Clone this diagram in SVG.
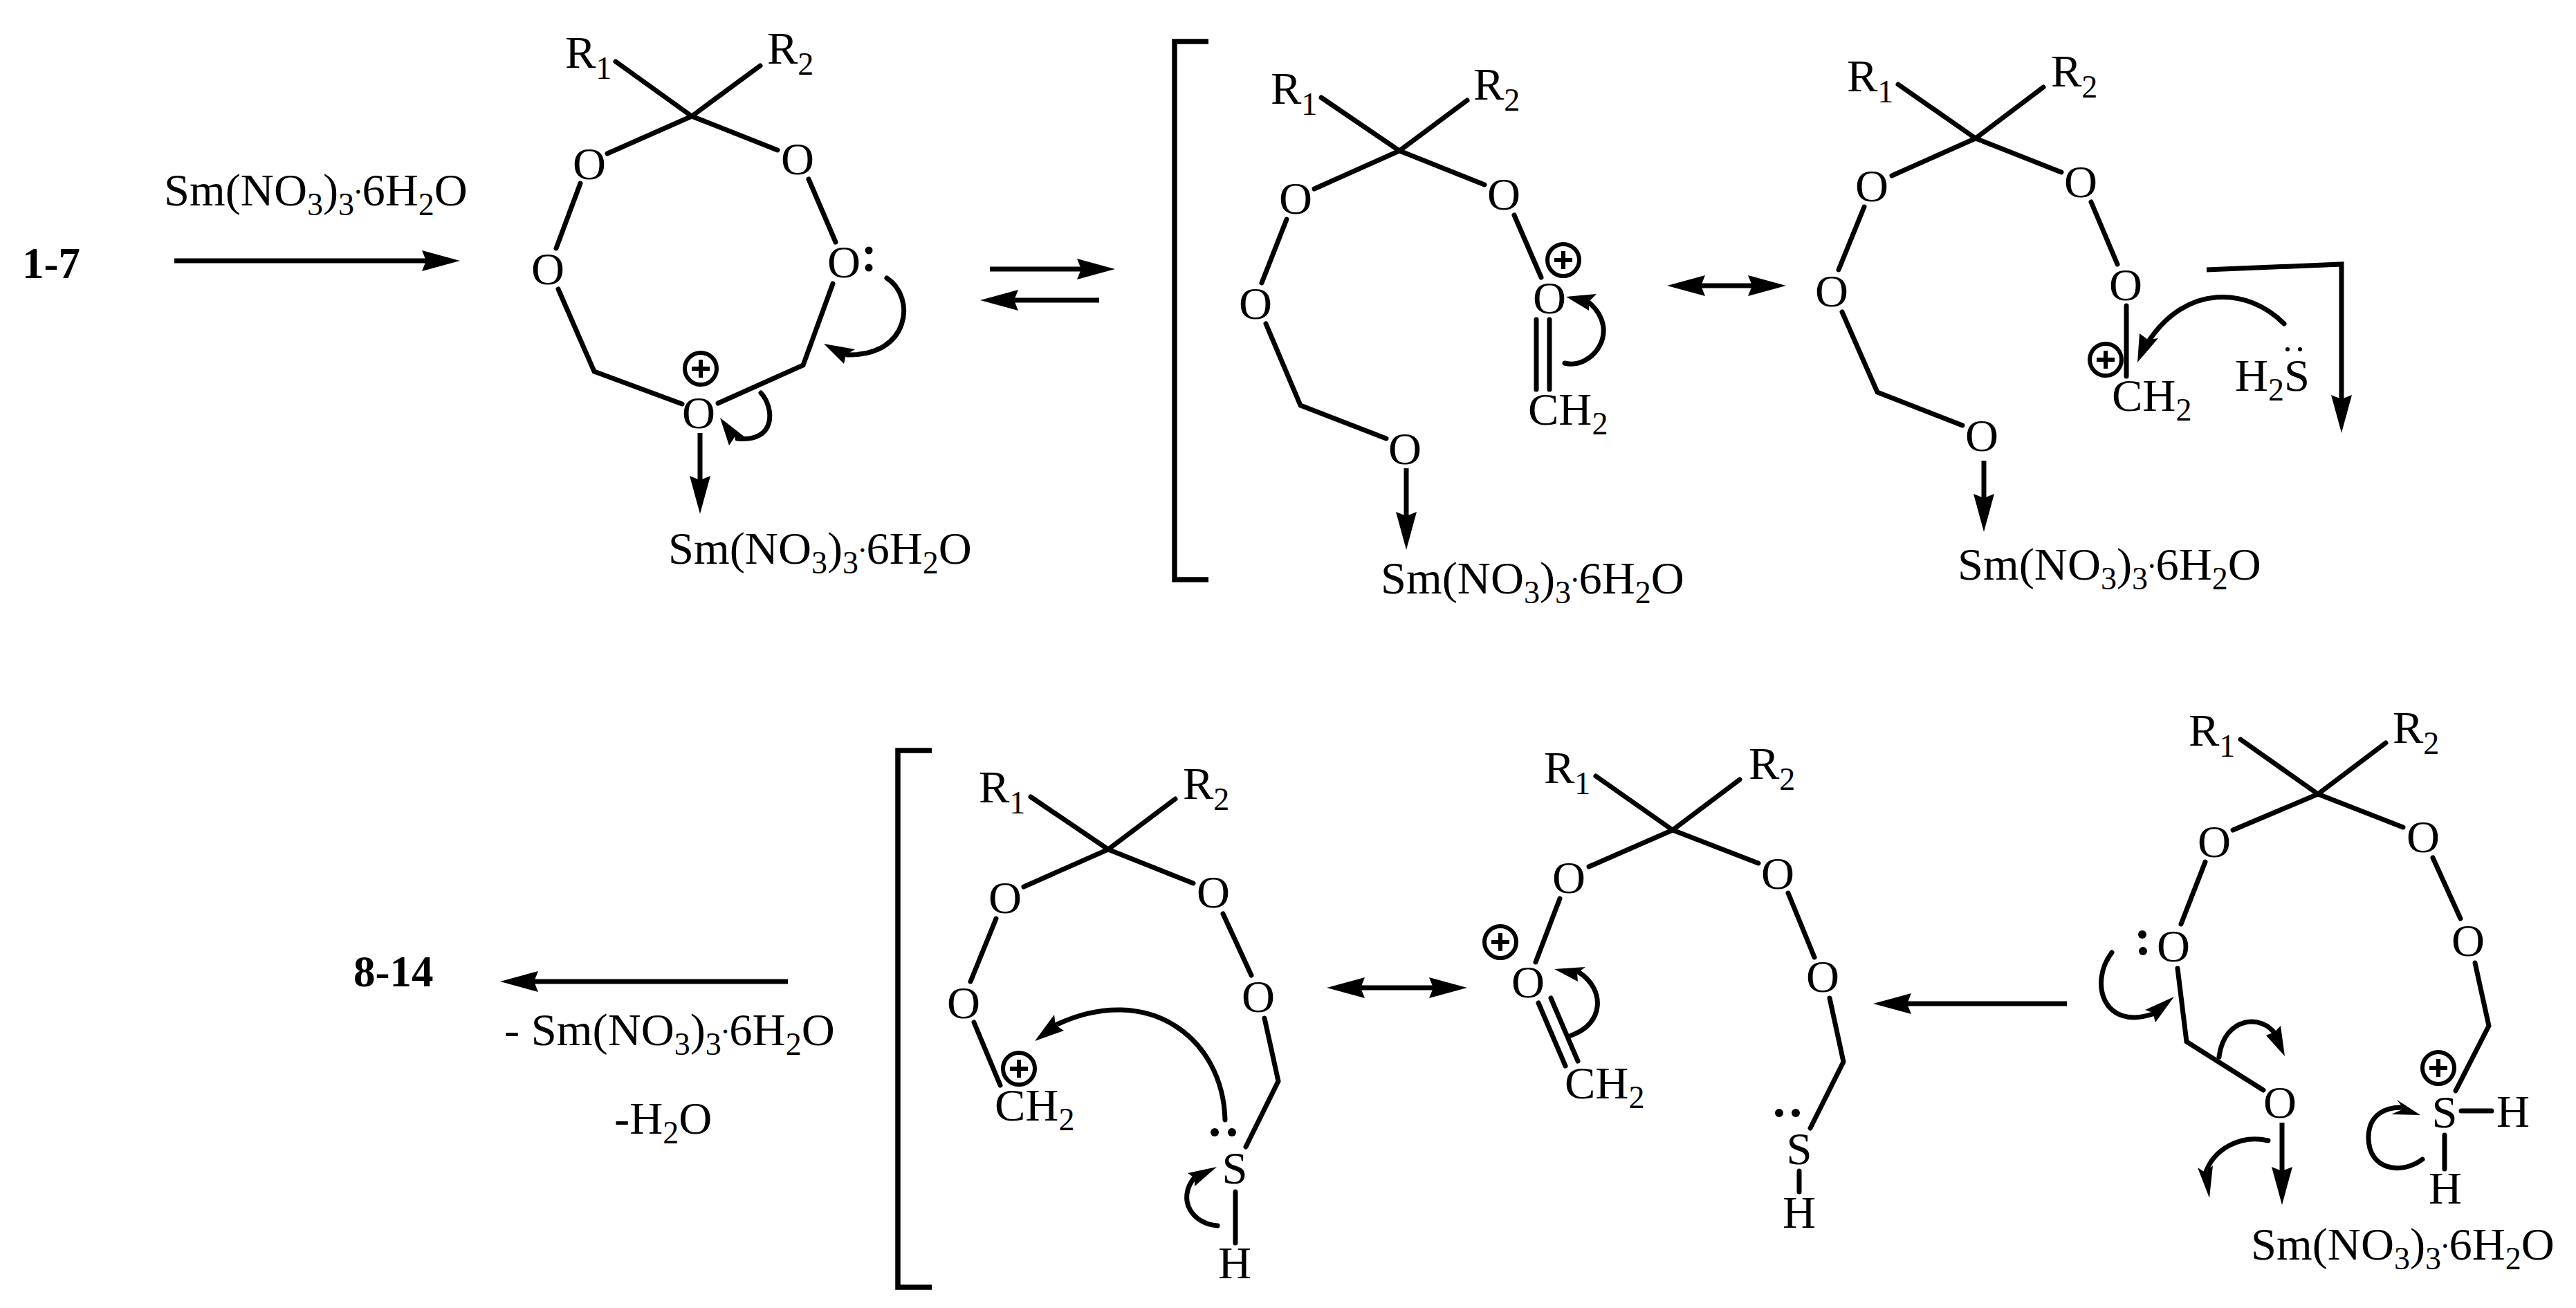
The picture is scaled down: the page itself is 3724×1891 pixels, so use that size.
<svg xmlns="http://www.w3.org/2000/svg" width="3724" height="1891" viewBox="0 0 3724 1891">
<style>
text{font-family:"Liberation Serif","Times New Roman",serif;font-size:66.5px;fill:#000}
.c{text-anchor:middle}
.b{font-weight:bold;font-size:63px}
.s{font-size:46px}
.bond{fill:none;stroke:#000;stroke-width:7;stroke-linecap:round;stroke-linejoin:miter}
.arr{fill:none;stroke:#000;stroke-width:7;marker-end:url(#head)}
.two{marker-start:url(#head)}
.brk{fill:none;stroke:#000;stroke-width:7.5}
.hd{fill:#000;stroke:none}
.dot{fill:#000}
</style>
<defs>
<marker id="head" markerUnits="userSpaceOnUse" viewBox="0 -15 55 30" markerWidth="55" markerHeight="30" refX="6" refY="0" orient="auto-start-reverse"><path d="M0,-15L55,0L0,15L6,0Z" fill="#000"/></marker>
<g id="plus"><circle r="23" fill="none" stroke="#000" stroke-width="6"/><path d="M-13,0H13M0,-13V13" stroke="#000" stroke-width="6" fill="none"/></g>
</defs>
<rect width="3724" height="1891" fill="#fff"/>

<g id="label-1-7"><text class="b" x="32" y="402">1-7</text></g>
<g id="label-8-14"><text class="b" x="511" y="1426">8-14</text></g>
<g id="label-reagent-top"><text x="237" y="297">Sm(NO<tspan class="s" dy="14">3</tspan><tspan dy="-14">)</tspan><tspan class="s" dy="14">3</tspan><tspan class="s" dy="-31">.</tspan><tspan dy="17">6H</tspan><tspan class="s" dy="14">2</tspan><tspan dy="-14">O</tspan></text></g>
<g id="label-reagent-bottom"><text x="729" y="1511">- Sm(NO<tspan class="s" dy="14">3</tspan><tspan dy="-14">)</tspan><tspan class="s" dy="14">3</tspan><tspan class="s" dy="-31">.</tspan><tspan dy="17">6H</tspan><tspan class="s" dy="14">2</tspan><tspan dy="-14">O</tspan></text><text x="888" y="1639">-H<tspan class="s" dy="14">2</tspan><tspan dy="-14">O</tspan></text></g>

<g id="mol-1">
<path class="bond" d="M890,89L1000,168L1099,95M878,222L1000,168L1124,217M839,265L804,359M1169,259L1208,350M807,418L859,537L986,584M1204,410L1161,528L1038,583"/>
<text x="817" y="98">R<tspan class="s" dy="16">1</tspan></text>
<text x="1109" y="92">R<tspan class="s" dy="16">2</tspan></text>
<text class="c" x="852" y="259">O</text><text class="c" x="1153" y="252">O</text><text class="c" x="792" y="411">O</text><text class="c" x="1220" y="401">O</text><text class="c" x="1010" y="619">O</text>
<circle class="dot" cx="1256" cy="362" r="5.5"/><circle class="dot" cx="1256" cy="387" r="5.5"/>
<use href="#plus" x="1013" y="533"/>
<path class="bond" d="M1282,402C1325,430 1315,515 1225,513"/><path class="hd" d="M1191,497L1220,526L1223,513L1236,505Z"/>
<path class="bond" d="M1100,568C1120,590 1122,640 1066,634"/><path class="hd" d="M1041,604L1054,644L1062,632L1077,632Z"/>
<text x="966" y="815">Sm(NO<tspan class="s" dy="14">3</tspan><tspan dy="-14">)</tspan><tspan class="s" dy="14">3</tspan><tspan class="s" dy="-31">.</tspan><tspan dy="17">6H</tspan><tspan class="s" dy="14">2</tspan><tspan dy="-14">O</tspan></text>
</g>

<g id="mol-2">
<path class="brk" d="M1747,60H1698V838H1747"/>
<path class="bond" d="M1910,141L2023,218L2121,145M1900,273L2023,218L2146,267M1860,317L1824,409M1830,468L1880,586L2004,634M2189,311L2228,401M2221,462V563M2240,462V563"/>
<text x="1837" y="150">R<tspan class="s" dy="16">1</tspan></text>
<text x="2130" y="144">R<tspan class="s" dy="16">2</tspan></text>
<text class="c" x="1873" y="309">O</text><text class="c" x="2174" y="303">O</text><text class="c" x="1815" y="461">O</text><text class="c" x="2031" y="671">O</text><text class="c" x="2240" y="453">O</text>
<use href="#plus" x="2260" y="376"/>
<text x="2209" y="614">CH<tspan class="s" dy="14">2</tspan></text>
<path class="bond" d="M2262,525C2300,535 2345,480 2298,438"/><path class="hd" d="M2264,429L2308,425L2297,436L2297,449Z"/>
<text x="1996" y="858">Sm(NO<tspan class="s" dy="14">3</tspan><tspan dy="-14">)</tspan><tspan class="s" dy="14">3</tspan><tspan class="s" dy="-31">.</tspan><tspan dy="17">6H</tspan><tspan class="s" dy="14">2</tspan><tspan dy="-14">O</tspan></text>
</g>

<g id="mol-3">
<path class="bond" d="M2744,122L2856,200L2954,126M2735,254L2856,200L2980,249M2695,299L2658,390M2663,451L2714,567L2837,615M3023,292L3061,382M3074,442V544"/>
<text x="2670" y="132">R<tspan class="s" dy="16">1</tspan></text>
<text x="2965" y="125">R<tspan class="s" dy="16">2</tspan></text>
<text class="c" x="2706" y="291">O</text><text class="c" x="3008" y="285">O</text><text class="c" x="2648" y="443">O</text><text class="c" x="2865" y="652">O</text><text class="c" x="3073" y="434">O</text>
<use href="#plus" x="3044" y="520"/>
<text x="3053" y="594">CH<tspan class="s" dy="14">2</tspan></text>
<text x="3231" y="565">H<tspan class="s" dy="14">2</tspan><tspan dy="-14">S</tspan></text>
<circle class="dot" cx="3307" cy="505" r="3"/><circle class="dot" cx="3325" cy="505" r="3"/>
<path class="bond" d="M3302,468C3250,415 3160,410 3105,495"/><path class="hd" d="M3090,524L3093,482L3105,491L3120,489Z"/>
<text x="2830" y="838">Sm(NO<tspan class="s" dy="14">3</tspan><tspan dy="-14">)</tspan><tspan class="s" dy="14">3</tspan><tspan class="s" dy="-31">.</tspan><tspan dy="17">6H</tspan><tspan class="s" dy="14">2</tspan><tspan dy="-14">O</tspan></text>
</g>

<g id="mol-4">
<path class="bond" d="M3239,1069L3351,1148L3449,1074M3228,1200L3351,1148L3474,1196M3188,1246L3153,1336M3148,1400L3161,1506L3272,1576M3517,1240L3557,1328M3578,1392L3598,1483L3550,1577M3558,1606H3602M3534,1641V1690"/>
<text x="3164" y="1078">R<tspan class="s" dy="16">1</tspan></text>
<text x="3459" y="1074">R<tspan class="s" dy="16">2</tspan></text>
<text class="c" x="3201" y="1239">O</text><text class="c" x="3503" y="1232">O</text><text class="c" x="3142" y="1390">O</text><text class="c" x="3568" y="1382">O</text><text class="c" x="3296" y="1616">O</text>
<circle class="dot" cx="3097" cy="1351" r="6"/><circle class="dot" cx="3098" cy="1375" r="6"/>
<use href="#plus" x="3525" y="1544"/>
<text class="c" x="3534" y="1630">S</text><text class="c" x="3633" y="1629">H</text><text class="c" x="3535" y="1740">H</text>
<path class="bond" d="M3053,1377C3020,1420 3040,1490 3112,1466"/><path class="hd" d="M3143,1441L3101,1460L3112,1464L3116,1478Z"/>
<path class="bond" d="M3208,1528C3215,1470 3270,1465 3290,1496"/><path class="hd" d="M3303,1527L3297,1483L3288,1492L3276,1497Z"/>
<path class="bond" d="M3279,1649C3240,1640 3200,1660 3188,1697"/><path class="hd" d="M3194,1732L3177,1688L3188,1695L3199,1685Z"/>
<path class="bond" d="M3502,1676C3470,1700 3424,1690 3424,1645C3424,1610 3450,1600 3475,1601"/><path class="hd" d="M3499,1612L3465,1590L3475,1603L3457,1611Z"/>
<text x="3254" y="1821">Sm(NO<tspan class="s" dy="14">3</tspan><tspan dy="-14">)</tspan><tspan class="s" dy="14">3</tspan><tspan class="s" dy="-31">.</tspan><tspan dy="17">6H</tspan><tspan class="s" dy="14">2</tspan><tspan dy="-14">O</tspan></text>
</g>

<g id="mol-5">
<path class="bond" d="M2307,1122L2418,1200L2515,1127M2297,1253L2418,1200L2542,1248M2255,1299L2220,1391M2224,1450L2263,1541M2242,1443L2281,1534M2585,1291L2623,1384M2645,1443L2665,1535L2617,1631M2601,1693V1723"/>
<text x="2232" y="1132">R<tspan class="s" dy="16">1</tspan></text>
<text x="2528" y="1126">R<tspan class="s" dy="16">2</tspan></text>
<text class="c" x="2268" y="1291">O</text><text class="c" x="2570" y="1285">O</text><text class="c" x="2209" y="1442">O</text><text class="c" x="2635" y="1434">O</text>
<use href="#plus" x="2169" y="1362"/>
<text x="2262" y="1588">CH<tspan class="s" dy="14">2</tspan></text>
<path class="bond" d="M2271,1497C2320,1480 2320,1430 2283,1406"/><path class="hd" d="M2247,1401L2292,1398L2280,1407L2281,1419Z"/>
<circle class="dot" cx="2572" cy="1609" r="6"/><circle class="dot" cx="2596" cy="1609" r="6"/>
<text class="c" x="2601" y="1683">S</text><text class="c" x="2601" y="1775">H</text>
</g>

<g id="mol-6">
<path class="brk" d="M1347,1085H1298V1861H1347"/>
<path class="bond" d="M1490,1152L1602,1228L1699,1155M1480,1282L1602,1228L1725,1277M1440,1328L1403,1419M1408,1478L1446,1569M1768,1321L1809,1410M1828,1472L1848,1563L1801,1658M1786,1723V1797"/>
<text x="1415" y="1160">R<tspan class="s" dy="16">1</tspan></text>
<text x="1710" y="1155">R<tspan class="s" dy="16">2</tspan></text>
<text class="c" x="1453" y="1320">O</text><text class="c" x="1754" y="1312">O</text><text class="c" x="1393" y="1472">O</text><text class="c" x="1819" y="1463">O</text>
<use href="#plus" x="1473" y="1545"/>
<text x="1438" y="1620">CH<tspan class="s" dy="14">2</tspan></text>
<path class="bond" d="M1771,1619C1768,1500 1660,1420 1528,1481"/><path class="hd" d="M1496,1505L1524,1467L1526,1482L1538,1490Z"/>
<circle class="dot" cx="1756" cy="1637" r="6"/><circle class="dot" cx="1781" cy="1637" r="6"/>
<text class="c" x="1785" y="1711">S</text><text class="c" x="1785" y="1848">H</text>
<path class="bond" d="M1760,1772C1725,1770 1700,1735 1727,1702"/><path class="hd" d="M1759,1687L1717,1696L1727,1703L1727,1715Z"/>
</g>

<g id="connectors">
<path class="arr" d="M252,377H616"/>
<path class="arr" d="M1431,389H1563"/>
<path class="arr" d="M1589,434H1466"/>
<path class="arr two" d="M2459,413H2533"/>
<path class="arr" d="M3190,390L3385,382V577"/>
<path class="arr" d="M2988,1451H2757"/>
<path class="arr two" d="M1967,1428H2072"/>
<path class="arr" d="M1139,1419H772"/>
<path class="arr" d="M1012,626V694"/>
<path class="arr" d="M2033,677V746"/>
<path class="arr" d="M2868,666V720"/>
<path class="arr" d="M3299,1623V1693"/>
</g>
</svg>
